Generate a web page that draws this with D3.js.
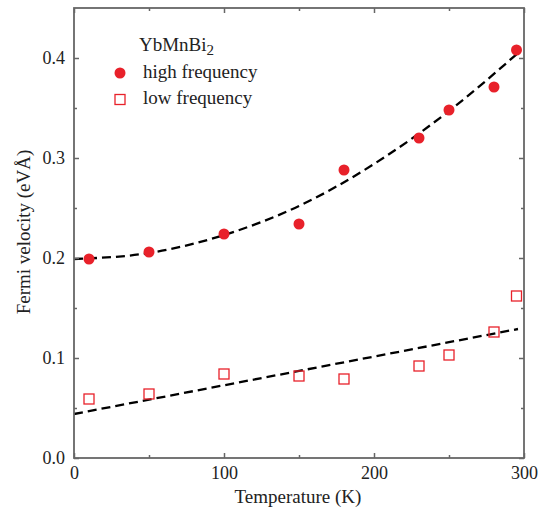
<!DOCTYPE html>
<html><head><meta charset="utf-8">
<script src="https://cdn.jsdelivr.net/npm/d3@7"></script>
<style>body{margin:0;background:#fff}svg{display:block}text{font-family:"Liberation Serif","Times New Roman",serif;fill:#222}</style>
</head><body>
<svg id="c" width="543" height="510"></svg>
<script>
const tempHigh = [10, 50, 100, 150, 180, 230, 250, 280, 295];
const velHigh = [0.199, 0.206, 0.224, 0.234, 0.288, 0.320, 0.348, 0.371, 0.408];
const tempLow = [10, 50, 100, 150, 180, 230, 250, 280, 295];
const velLow = [0.059, 0.064, 0.084, 0.082, 0.079, 0.092, 0.103, 0.126, 0.162];
const fitHighT = [0, 50, 100, 150, 200, 250, 296];
const fitHighV = [0.199, 0.205, 0.223, 0.252, 0.294, 0.347, 0.405];
const fitLowT = [0, 296];
const fitLowV = [0.044, 0.129];
const xTicks = [0, 100, 200, 300];
const yTicks = [0.0, 0.1, 0.2, 0.3, 0.4];
const legendLabels = ["high frequency", "low frequency"];

const svg = d3.select("#c");
const L = 74, R = 524, T = 8, B = 458;
const x = d3.scaleLinear().domain([0, 300]).range([L, R]);
const y = d3.scaleLinear().domain([0, 0.45]).range([B, T]);
const red = "#e8212a", axisCol = "#666";

// fit lines
svg.append("path").datum(fitHighT.map((t, i) => [t, fitHighV[i]]))
  .attr("d", d3.line().x(d => x(d[0])).y(d => y(d[1])).curve(d3.curveMonotoneX))
  .attr("fill", "none").attr("stroke", "#000")
  .attr("stroke-width", 2.3).attr("stroke-dasharray", "9,5");
svg.append("path").datum(fitLowT.map((t, i) => [t, fitLowV[i]]))
  .attr("d", d3.line().x(d => x(d[0])).y(d => y(d[1]))).attr("fill", "none").attr("stroke", "#000")
  .attr("stroke-width", 2.3).attr("stroke-dasharray", "9,5");

// points
svg.selectAll(".hi").data(tempHigh).enter().append("circle")
  .attr("cx", d => x(d)).attr("cy", (d, i) => y(velHigh[i])).attr("r", 5.5).attr("fill", red);
svg.selectAll(".lo").data(tempLow).enter().append("rect")
  .attr("x", d => x(d) - 5).attr("y", (d, i) => y(velLow[i]) - 5).attr("width", 10).attr("height", 10)
  .attr("fill", "none").attr("stroke", red).attr("stroke-width", 1.3);

// axes
const gx = svg.append("g").attr("transform", `translate(0,${B})`)
  .call(d3.axisBottom(x).tickValues(xTicks).tickFormat(d3.format("d")).tickSize(-5).tickPadding(8));
const gxm = svg.append("g").attr("transform", `translate(0,${B})`)
  .call(d3.axisBottom(x).tickValues([50, 150, 250]).tickFormat("").tickSize(-3));
const gxt = svg.append("g").attr("transform", `translate(0,${T})`)
  .call(d3.axisTop(x).tickValues(xTicks).tickFormat("").tickSize(-5));
const gxtm = svg.append("g").attr("transform", `translate(0,${T})`)
  .call(d3.axisTop(x).tickValues([50, 150, 250]).tickFormat("").tickSize(-3));
const gy = svg.append("g").attr("transform", `translate(${L},0)`)
  .call(d3.axisLeft(y).tickValues(yTicks).tickFormat(d3.format(".1f")).tickSize(-5).tickPadding(9));
const gym = svg.append("g").attr("transform", `translate(${L},0)`)
  .call(d3.axisLeft(y).tickValues([0.05, 0.15, 0.25, 0.35]).tickFormat("").tickSize(-3));
const gyr = svg.append("g").attr("transform", `translate(${R},0)`)
  .call(d3.axisRight(y).tickValues(yTicks).tickFormat("").tickSize(-5));
const gyrm = svg.append("g").attr("transform", `translate(${R},0)`)
  .call(d3.axisRight(y).tickValues([0.05, 0.15, 0.25, 0.35]).tickFormat("").tickSize(-3));
[gx, gxm, gxt, gxtm, gy, gym, gyr, gyrm].forEach(g => {
  g.select(".domain").remove();
  g.selectAll("line").attr("stroke", axisCol).attr("stroke-width", 1.5);
  g.selectAll("text").attr("font-size", 18).attr("font-family", "Liberation Serif").attr("fill", "#222");
});
svg.append("rect").attr("x", L).attr("y", T).attr("width", R - L).attr("height", B - T)
  .attr("fill", "none").attr("stroke", axisCol).attr("stroke-width", 1.8);

// axis titles
svg.append("text").attr("x", 298).attr("y", 503).attr("text-anchor", "middle")
  .attr("font-size", 19).text("Temperature (K)");
svg.append("text").attr("transform", `translate(30,232) rotate(-90)`).attr("text-anchor", "middle")
  .attr("font-size", 19).text("Fermi velocity (eVÅ)");

// legend
const lt = svg.append("text").attr("x", 139).attr("y", 51).attr("font-size", 19);
lt.append("tspan").text("YbMnBi");
lt.append("tspan").attr("font-size", 15).attr("dy", 4).text("2");
svg.append("circle").attr("cx", 120).attr("cy", 73).attr("r", 5.5).attr("fill", red);
svg.append("text").attr("x", 143).attr("y", 78).attr("font-size", 19).text(legendLabels[0]);
svg.append("rect").attr("x", 115).attr("y", 94.5).attr("width", 10).attr("height", 10)
  .attr("fill", "none").attr("stroke", red).attr("stroke-width", 1.3);
svg.append("text").attr("x", 143).attr("y", 104).attr("font-size", 19).text(legendLabels[1]);
</script>
</body></html>
